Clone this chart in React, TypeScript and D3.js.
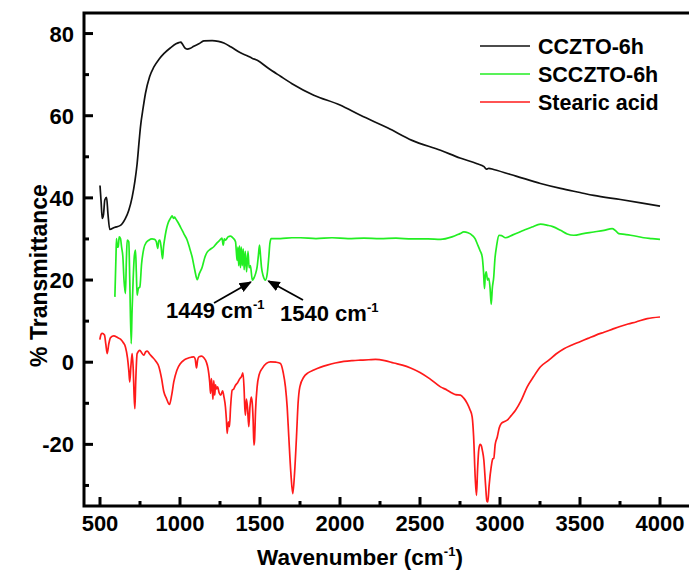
import React from "react";
import * as d3 from "d3";

const ccztoSeries: [number, number][] = [
  [500,43],[507,39],[514,35],[522,36],[530,39.5],[541,40.1],[550,36],[561,32.3],[590,32.8],[628,33.3],[659,35],[680,37],[701,40.2],[718,44],[732,48.3],[745,54],[753,57.3],[770,62],[784,65.4],[810,69.5],[836,71.8],[870,73.8],[899,75.1],[940,76.5],[975,77.5],[993,77.8],[1005,77.9],[1014,77.5],[1030,76.5],[1045,76.2],[1065,76.4],[1086,76.9],[1118,77.5],[1149,78.2],[1201,78.3],[1240,78.1],[1274,77.7],[1320,76.7],[1378,75.3],[1420,74.6],[1450,74],[1483,73.5],[1550,71.6],[1628,69.6],[1700,67.8],[1836,65],[2000,62.6],[2128,60.1],[2300,57],[2450,54],[2628,51.6],[2750,49.7],[2857,48.3],[2900,47.6],[2915,47],[2930,47.2],[2960,46.9],[3100,45.3],[3253,43.5],[3378,42.3],[3500,41.3],[3586,40.6],[3753,39.6],[3880,38.8],[4000,38]
];

const sccztoSeries: [number, number][] = [
  [593,15.9],[600,26],[603,30.1],[608,28],[614,28.1],[620,30.5],[628,30.1],[635,28],[643,25.6],[650,20],[659,16.7],[665,25],[670,29.7],[680,29.3],[686,20],[695,4.5],[700,12],[707,20],[715,26],[722,27.3],[727,22],[732,16.3],[740,18],[749,18.3],[760,24],[774,27.7],[790,29.2],[805,29.7],[825,30],[841,29.9],[852,29.3],[861,27.7],[867,29.5],[874,29.7],[882,28],[891,25.2],[897,28],[903,29.7],[913,32],[924,33.7],[940,35],[951,35.6],[960,35],[966,35.3],[972,35],[985,34.2],[1003,32.9],[1025,31.2],[1045,29.7],[1060,27.8],[1076,25.6],[1092,22.5],[1108,20.1],[1120,21.5],[1139,23.2],[1155,25.5],[1170,26.8],[1190,27.5],[1211,28.1],[1230,29],[1249,29.7],[1262,30.2],[1270,28.5],[1277,30],[1284,29.7],[1300,30.5],[1316,30.7],[1332,30.2],[1347,29.3],[1352,27],[1357,24.8],[1362,28],[1367,23.5],[1372,28.3],[1378,23],[1383,28],[1389,23.5],[1395,27.6],[1401,22.5],[1408,27],[1416,22],[1425,27],[1432,23],[1440,23.5],[1452,20],[1462,20.5],[1472,21.5],[1482,23.2],[1490,26],[1497,28.5],[1503,26],[1509,23.2],[1520,21],[1534,20],[1545,21.5],[1555,25.6],[1562,29],[1570,30.1],[1628,30.1],[1700,30.3],[1753,30.3],[1850,30.1],[1950,30.3],[2050,30.1],[2150,30.2],[2250,30.1],[2350,30.2],[2450,30],[2550,30],[2628,29.9],[2700,30.5],[2750,31.3],[2774,31.7],[2800,31.5],[2826,30.9],[2845,30],[2857,28.9],[2875,27.2],[2889,25.6],[2897,22],[2903,17.9],[2908,21],[2914,22],[2922,20],[2930,20.4],[2938,18],[2945,14.1],[2952,18],[2961,20.8],[2968,25],[2978,28.1],[2993,30.9],[3010,30.8],[3034,30.3],[3080,31],[3149,32.1],[3200,32.9],[3253,33.6],[3300,33.3],[3330,33],[3378,32.1],[3420,31.2],[3461,30.9],[3520,31.3],[3586,31.7],[3650,32.1],[3701,32.5],[3720,32.1],[3742,31.3],[3780,31.1],[3816,30.9],[3860,30.6],[3899,30.3],[3950,30.1],[4000,29.9]
];

const stearicSeries: [number, number][] = [
  [499,5.5],[507,6.8],[514,7],[528,6.6],[536,4.5],[545,2.1],[555,4.5],[566,6],[586,6.4],[610,6],[628,5.6],[645,4.8],[659,3.7],[672,1],[680,-2],[686,-4.8],[693,-1],[701,2.1],[708,-2],[713,-8],[718,-11.3],[723,-5],[732,2.1],[749,2.9],[760,2.3],[774,1.7],[785,2.5],[795,2.7],[810,2],[826,1.3],[848,0.3],[868,-1.1],[885,-4],[899,-7.2],[915,-8.8],[934,-10.3],[948,-8],[961,-4.8],[980,-2],[1003,-0.3],[1025,0.5],[1045,0.9],[1070,1.2],[1086,1.3],[1095,0.8],[1103,-1.4],[1110,0.5],[1118,1.3],[1135,1.5],[1149,1.1],[1165,0],[1175,-1.5],[1180,-2.8],[1186,-5],[1191,-7.6],[1196,-4],[1201,-6],[1206,-9],[1211,-4.5],[1217,-8],[1222,-5.5],[1228,-6.5],[1235,-6],[1245,-7.5],[1255,-8],[1266,-7],[1275,-8.5],[1284,-10.9],[1290,-14],[1295,-17.3],[1302,-14.5],[1309,-15.7],[1316,-11],[1326,-6.8],[1336,-6.5],[1347,-5.6],[1360,-5],[1374,-4],[1384,-3.5],[1393,-2.6],[1400,-6],[1405,-11],[1409,-12.9],[1415,-9],[1422,-11],[1430,-15.7],[1437,-11],[1445,-8.5],[1451,-9.7],[1457,-14],[1462,-20.2],[1466,-19],[1472,-12],[1482,-6],[1495,-3],[1514,-1.5],[1540,-0.3],[1566,0.1],[1600,0],[1628,-0.3],[1645,-2.5],[1659,-6],[1670,-11],[1680,-18.2],[1693,-27],[1705,-32],[1716,-27],[1728,-18.2],[1738,-10],[1749,-6],[1774,-3.6],[1800,-2.6],[1836,-1.9],[1880,-1.2],[1920,-0.7],[1970,-0.2],[2024,0.2],[2080,0.4],[2128,0.5],[2180,0.6],[2222,0.7],[2280,0.4],[2336,-0.2],[2390,-0.7],[2441,-1.4],[2500,-2.5],[2560,-4],[2628,-6],[2670,-6.8],[2700,-7.5],[2722,-7.9],[2753,-8],[2775,-8.8],[2795,-10],[2812,-11.5],[2826,-13.3],[2835,-18],[2845,-28],[2853,-32.4],[2860,-26],[2867,-21.4],[2875,-20],[2882,-20.2],[2890,-21.5],[2899,-23.8],[2910,-30],[2918,-33.8],[2924,-34],[2932,-30],[2945,-25.5],[2955,-23.5],[2961,-23.4],[2970,-20],[2983,-18.2],[2995,-16],[3008,-14.9],[3025,-14.5],[3045,-14.1],[3070,-13],[3097,-11.7],[3130,-9.5],[3170,-6],[3210,-3.5],[3253,-1.1],[3305,0.5],[3350,2],[3400,3.3],[3450,4.2],[3500,5],[3550,5.8],[3600,6.6],[3650,7.3],[3700,8],[3750,8.7],[3800,9.3],[3850,9.8],[3920,10.6],[4000,11]
];

const seriesNames = ["CCZTO-6h", "SCCZTO-6h", "Stearic acid"];
const seriesColors = ["#111111", "#22ee22", "#ff1a1a"];
const xTickValues = [500, 1000, 1500, 2000, 2500, 3000, 3500, 4000];
const xMinorTicks = [750, 1250, 1750, 2250, 2750, 3250, 3750];
const yTickValues = [-20, 0, 20, 40, 60, 80];
const yMinorTicks = [-30, -10, 10, 30, 50, 70];
const annotationPeaks = [1449, 1540];

const W = 689, H = 575;
const FONT = "'Liberation Sans', Arial, Helvetica, sans-serif";

export default function App() {
  const x = d3.scaleLinear().domain([400, 4200]).range([84, 692]);
  const y = d3.scaleLinear().domain([-35, 85]).range([506, 13]);
  const line = d3
    .line<[number, number]>()
    .x(d => x(d[0]))
    .y(d => y(d[1]))
    .curve(d3.curveMonotoneX);
  const all = [ccztoSeries, sccztoSeries, stearicSeries];
  const left = x.range()[0];
  const bottom = y.range()[0];
  const top = y.range()[1];
  const right = x.range()[1];

  const legendY = [46, 74, 102];

  return (
    <svg width={W} height={H} style={{ position: "absolute", left: 0, top: 0, background: "#fff" }} fontFamily={FONT} fontWeight="bold">
      <rect x={0} y={0} width={W} height={H} fill="#fff" />
      {all.map((s, i) => (
        <path key={i} d={line(s) || ""} fill="none" stroke={seriesColors[i]} strokeWidth={1.7} strokeLinejoin="round" />
      ))}
      <path d={`M${left},${top}H${right}M${left},${top - 1.5}V${bottom}H${right}`} fill="none" stroke="#000" strokeWidth={3} />
      {xTickValues.map(v => (
        <g key={"xt" + v}>
          <line x1={x(v)} x2={x(v)} y1={bottom} y2={bottom - 9} stroke="#000" strokeWidth={3} />
          <text x={x(v)} y={531} textAnchor="middle" fontSize={22}>{v}</text>
        </g>
      ))}
      {xMinorTicks.map(v => (
        <line key={"xm" + v} x1={x(v)} x2={x(v)} y1={bottom} y2={bottom - 5} stroke="#000" strokeWidth={3} />
      ))}
      {yTickValues.map(v => (
        <g key={"yt" + v}>
          <line x1={left} x2={left + 9} y1={y(v)} y2={y(v)} stroke="#000" strokeWidth={3} />
          <text x={74} y={y(v) + 8} textAnchor="end" fontSize={22}>{v}</text>
        </g>
      ))}
      {yMinorTicks.map(v => (
        <line key={"ym" + v} x1={left} x2={left + 5} y1={y(v)} y2={y(v)} stroke="#000" strokeWidth={3} />
      ))}
      <text x={360} y={565} textAnchor="middle" fontSize={22.5}>
        Wavenumber (cm<tspan dy={-9} fontSize={13}>-1</tspan><tspan dy={9}>)</tspan>
      </text>
      <text transform={`translate(47,${(top + bottom) / 2 + 16}) rotate(-90)`} textAnchor="middle" fontSize={23}>% Transmittance</text>
      {seriesNames.map((n, i) => (
        <g key={n}>
          <line x1={480} x2={530} y1={legendY[i]} y2={legendY[i]} stroke={seriesColors[i]} strokeWidth={1.7} />
          <text x={538} y={legendY[i] + 8} fontSize={21.5}>{n}</text>
        </g>
      ))}
      <defs>
        <marker id="arr" viewBox="0 0 10 10" refX={9} refY={5} markerWidth={7} markerHeight={7} orient="auto">
          <path d="M0,1L10,5L0,9z" fill="#000" />
        </marker>
      </defs>
      <line x1={214} y1={303} x2={x(annotationPeaks[0]) - 1} y2={y(20) + 2} stroke="#000" strokeWidth={1.8} markerEnd="url(#arr)" />
      <text x={166} y={318} fontSize={22}>{annotationPeaks[0]} cm<tspan dy={-9} fontSize={13}>-1</tspan></text>
      <line x1={303} y1={300} x2={x(annotationPeaks[1]) + 2} y2={y(20) + 1} stroke="#000" strokeWidth={1.8} markerEnd="url(#arr)" />
      <text x={280} y={321} fontSize={22}>{annotationPeaks[1]} cm<tspan dy={-9} fontSize={13}>-1</tspan></text>
    </svg>
  );
}
